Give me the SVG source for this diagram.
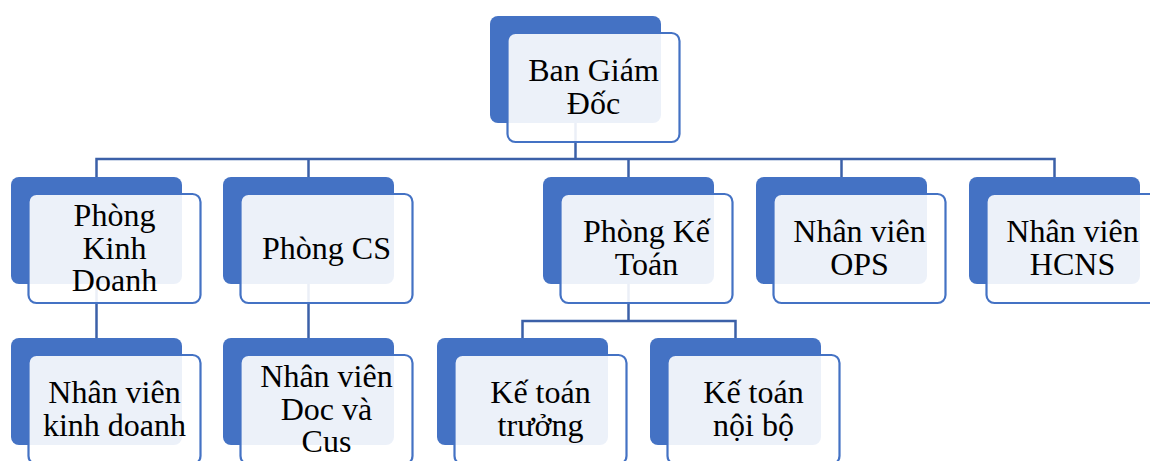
<svg xmlns="http://www.w3.org/2000/svg" width="1150" height="461" viewBox="0 0 1150 461">
<style>
.bk{fill:#4472C4;}
.fr{fill:#FFFFFF;fill-opacity:0.9;stroke:#4472C4;stroke-width:2.2;}
.tx{font-family:"Liberation Serif","Times New Roman",serif;font-size:32px;fill:#000;text-anchor:middle;}
.cn{fill:none;stroke:#3B60A8;stroke-width:2.5;}
</style>
<rect width="1150" height="461" fill="#FFFFFF"/>
<g id="connectors" class="cn">
<path d="M575.5,123 V159"/>
<path d="M96.5,177 V159 H1054.5 V177"/>
<path d="M308.5,159 V177"/>
<path d="M628.5,159 V177"/>
<path d="M841.5,159 V177"/>
<path d="M96.5,284 V338"/>
<path d="M308.5,284 V338"/>
<path d="M628.5,284 V321"/>
<path d="M522.5,338 V321 H735.5 V338"/>
</g>
<g id="node-bgd">
<rect class="bk" x="490" y="16" width="171" height="107" rx="8"/>
<rect class="fr" x="507.5" y="33" width="172" height="109" rx="8"/>
<text class="tx" x="593.5" y="81.25">Ban Giám</text>
<text class="tx" x="593.5" y="113.75">Đốc</text>
</g>
<g id="node-pkd">
<rect class="bk" x="11" y="177" width="171" height="107" rx="8"/>
<rect class="fr" x="28.5" y="194" width="172" height="109" rx="8"/>
<text class="tx" x="114.5" y="226">Phòng</text>
<text class="tx" x="114.5" y="258.5">Kinh</text>
<text class="tx" x="114.5" y="291">Doanh</text>
</g>
<g id="node-pcs">
<rect class="bk" x="223" y="177" width="171" height="107" rx="8"/>
<rect class="fr" x="240.5" y="194" width="172" height="109" rx="8"/>
<text class="tx" x="326.5" y="258.5">Phòng CS</text>
</g>
<g id="node-pkt">
<rect class="bk" x="543" y="177" width="171" height="107" rx="8"/>
<rect class="fr" x="560.5" y="194" width="172" height="109" rx="8"/>
<text class="tx" x="646.5" y="242.25">Phòng Kế</text>
<text class="tx" x="646.5" y="274.75">Toán</text>
</g>
<g id="node-ops">
<rect class="bk" x="756" y="177" width="171" height="107" rx="8"/>
<rect class="fr" x="773.5" y="194" width="172" height="109" rx="8"/>
<text class="tx" x="859.5" y="242.25">Nhân viên</text>
<text class="tx" x="859.5" y="274.75">OPS</text>
</g>
<g id="node-hcns">
<rect class="bk" x="969" y="177" width="171" height="107" rx="8"/>
<rect class="fr" x="986.5" y="194" width="172" height="109" rx="8"/>
<text class="tx" x="1072.5" y="242.25">Nhân viên</text>
<text class="tx" x="1072.5" y="274.75">HCNS</text>
</g>
<g id="node-nvkd">
<rect class="bk" x="11" y="338" width="171" height="107" rx="8"/>
<rect class="fr" x="28.5" y="355" width="172" height="109" rx="8"/>
<text class="tx" x="114.5" y="403.25">Nhân viên</text>
<text class="tx" x="114.5" y="435.75">kinh doanh</text>
</g>
<g id="node-nvdc">
<rect class="bk" x="223" y="338" width="171" height="107" rx="8"/>
<rect class="fr" x="240.5" y="355" width="172" height="109" rx="8"/>
<text class="tx" x="326.5" y="387">Nhân viên</text>
<text class="tx" x="326.5" y="419.5">Doc và</text>
<text class="tx" x="326.5" y="452">Cus</text>
</g>
<g id="node-ktt">
<rect class="bk" x="437" y="338" width="171" height="107" rx="8"/>
<rect class="fr" x="454.5" y="355" width="172" height="109" rx="8"/>
<text class="tx" x="540.5" y="403.25">Kế toán</text>
<text class="tx" x="540.5" y="435.75">trưởng</text>
</g>
<g id="node-ktnb">
<rect class="bk" x="650" y="338" width="171" height="107" rx="8"/>
<rect class="fr" x="667.5" y="355" width="172" height="109" rx="8"/>
<text class="tx" x="753.5" y="403.25">Kế toán</text>
<text class="tx" x="753.5" y="435.75">nội bộ</text>
</g>
</svg>
